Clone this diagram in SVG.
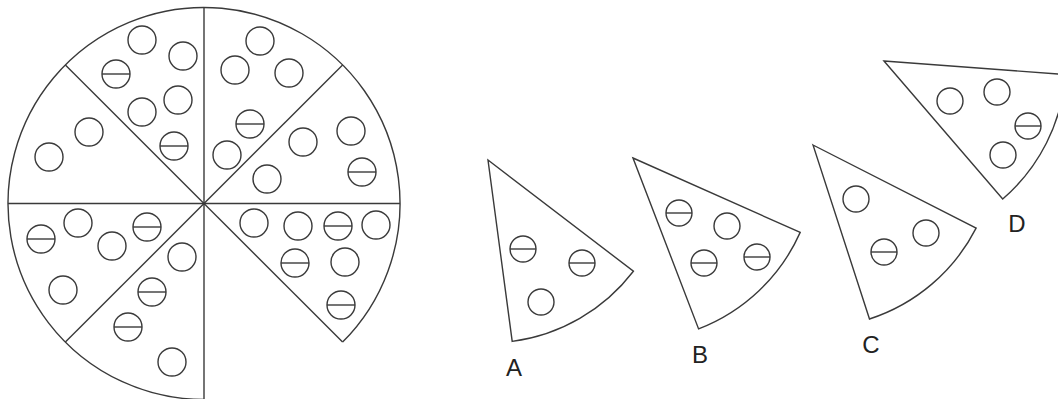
<svg xmlns="http://www.w3.org/2000/svg" width="1058" height="399" viewBox="0 0 1058 399">
<style>
.ln{fill:none;stroke:#3a3a3a;stroke-width:1.4}
.sl{fill:#fff;stroke:#3a3a3a;stroke-width:1.4;stroke-linejoin:miter}
.tp{fill:none;stroke:#3a3a3a;stroke-width:1.4}
.lbl{font-family:'Liberation Sans',Arial,sans-serif;font-size:24px;fill:#222;text-anchor:middle}
</style>
<defs>
<g id="o"><circle r="14" class="tp"/></g>
<g id="m"><circle r="14" class="tp"/><line x1="-14" y1="0" x2="14" y2="0" class="tp"/></g>
<g id="os"><circle r="13" class="tp"/></g>
<g id="ms"><circle r="13" class="tp"/><line x1="-13" y1="0" x2="13" y2="0" class="tp"/></g>
</defs>
<rect width="1058" height="399" fill="#fff"/>

<g id="pie">
<path class="ln" d="M204 399.5 A196 196 0 1 1 342.6 342.1"/>
<line class="ln" x1="204" y1="7.5" x2="204" y2="399.5"/>
<line class="ln" x1="8" y1="203.5" x2="400" y2="203.5"/>
<line class="ln" x1="65.4" y1="64.9" x2="342.6" y2="342.1"/>
<line class="ln" x1="342.6" y1="64.9" x2="65.4" y2="342.1"/>
<use href="#o" x="142" y="40"/>
<use href="#o" x="183" y="56"/>
<use href="#m" x="116" y="74"/>
<use href="#o" x="178" y="100"/>
<use href="#o" x="142" y="112"/>
<use href="#m" x="174" y="146"/>
<use href="#o" x="89" y="132"/>
<use href="#o" x="49" y="157"/>
<use href="#o" x="260" y="41"/>
<use href="#o" x="235" y="70"/>
<use href="#o" x="289" y="73"/>
<use href="#m" x="250" y="124"/>
<use href="#o" x="227" y="155"/>
<use href="#o" x="351" y="131"/>
<use href="#o" x="303" y="142"/>
<use href="#m" x="362" y="172"/>
<use href="#o" x="267" y="179"/>
<use href="#o" x="254" y="223"/>
<use href="#o" x="298" y="226"/>
<use href="#m" x="338" y="226"/>
<use href="#o" x="376" y="225"/>
<use href="#m" x="295" y="263"/>
<use href="#o" x="345" y="262"/>
<use href="#m" x="341" y="305"/>
<use href="#m" x="41" y="239"/>
<use href="#o" x="78" y="223"/>
<use href="#o" x="112" y="246"/>
<use href="#m" x="147" y="227"/>
<use href="#o" x="63" y="290"/>
<use href="#o" x="182" y="257"/>
<use href="#m" x="152" y="292"/>
<use href="#m" x="128" y="327"/>
<use href="#o" x="172" y="362"/>
</g>

<g id="sliceA">
<path class="sl" d="M488 160 L633.4 271.2 A183 183 0 0 1 512.2 341.4 Z"/>
<use href="#ms" x="523" y="249"/>
<use href="#ms" x="582" y="263"/>
<use href="#os" x="541" y="302"/>
<text class="lbl" x="514" y="376">A</text>
</g>

<g id="sliceB">
<path class="sl" d="M633 158 L800.2 232.4 A183 183 0 0 1 698.6 328.9 Z"/>
<use href="#ms" x="679" y="213"/>
<use href="#os" x="727" y="226"/>
<use href="#ms" x="704" y="263"/>
<use href="#ms" x="757" y="257"/>
<text class="lbl" x="700" y="363">B</text>
</g>

<g id="sliceC">
<path class="sl" d="M813 145 L976.1 228.1 A183 183 0 0 1 869.5 319 Z"/>
<use href="#os" x="856" y="199"/>
<use href="#os" x="926" y="233"/>
<use href="#ms" x="884" y="252"/>
<text class="lbl" x="871" y="353">C</text>
</g>

<g id="sliceD">
<path class="sl" d="M884 61 L1065.5 74.6 A182 182 0 0 1 1002.7 199 Z"/>
<use href="#os" x="950" y="101"/>
<use href="#os" x="997" y="92"/>
<use href="#ms" x="1028" y="126"/>
<use href="#os" x="1003" y="155"/>
<text class="lbl" x="1017" y="232">D</text>
</g>
</svg>
